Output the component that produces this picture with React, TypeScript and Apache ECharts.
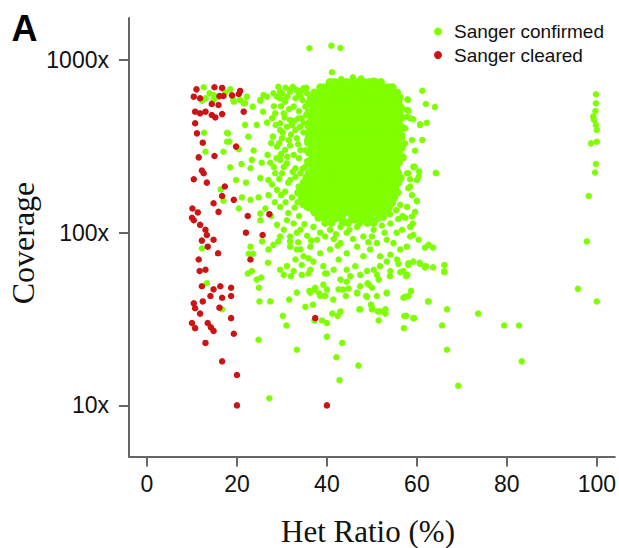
import React, { useEffect, useRef } from "react";
import * as echarts from "echarts";

const xTicks = [0, 20, 40, 60, 80, 100];
const yTicks = [10, 100, 1000];
const seriesNames = ["Sanger confirmed", "Sanger cleared"];
const GREEN = "#7FFF00";
const RED = "#CC1414";

// dense central cloud of confirmed calls: [coverage, het ratios along that row]
const clusterRows: [number, number[]][] = [
  [745, [40.6, 41.7, 43.1, 44.4, 45.6, 46.9, 48.3, 49.5, 50.8, 52.0]],
  [695, [38.5, 39.6, 40.8, 42.1, 43.2, 44.8, 45.9, 47.4, 48.6, 50.1, 51.2, 52.8, 53.8, 54.6]],
  [648, [37.2, 37.9, 38.6, 40.1, 41.2, 42.8, 43.9, 45.4, 46.6, 48.1, 49.2, 50.8, 51.9, 53.4, 54.6, 55.6]],
  [606, [36.4, 36.9, 38.1, 39.2, 40.8, 41.9, 43.4, 44.6, 46.1, 47.2, 48.8, 49.9, 51.4, 52.6, 54.1, 55.2, 56.2]],
  [567, [36.1, 37.2, 38.7, 39.9, 41.4, 42.6, 44.1, 45.2, 46.7, 47.9, 49.4, 50.6, 52.1, 53.2, 54.7, 55.9]],
  [530, [36.8, 37.9, 39.4, 40.6, 42.1, 43.2, 44.8, 45.9, 47.4, 48.6, 50.1, 51.2, 52.8, 53.9, 55.4, 56.5]],
  [496, [35.9, 37.4, 38.6, 40.1, 41.2, 42.8, 43.9, 45.4, 46.6, 48.1, 49.2, 50.8, 51.9, 53.4, 54.6, 56.1]],
  [464, [36.6, 38.1, 39.2, 40.8, 41.9, 43.4, 44.6, 46.1, 47.2, 48.8, 49.9, 51.4, 52.6, 54.1, 55.2, 56.6]],
  [434, [36.2, 37.3, 38.7, 40.0, 41.3, 42.7, 44.0, 45.3, 46.7, 48.0, 49.3, 50.7, 52.0, 53.3, 54.7, 56.0]],
  [406, [36.7, 38.0, 39.3, 40.7, 42.0, 43.3, 44.7, 46.0, 47.3, 48.7, 50.0, 51.3, 52.7, 54.0, 55.3, 56.7]],
  [380, [36.1, 37.4, 38.6, 40.1, 41.3, 42.6, 44.1, 45.3, 46.6, 48.1, 49.3, 50.6, 52.1, 53.3, 54.6, 56.1]],
  [355, [36.8, 38.1, 39.2, 40.8, 42.1, 43.2, 44.8, 46.1, 47.2, 48.8, 50.1, 51.2, 52.8, 54.1, 55.2, 56.5]],
  [332, [35.8, 37.3, 38.7, 39.9, 41.3, 42.7, 43.9, 45.3, 46.7, 47.9, 49.3, 50.7, 51.9, 53.3, 54.7, 55.9]],
  [311, [36.6, 37.9, 39.4, 40.6, 41.9, 43.4, 44.6, 45.9, 47.4, 48.6, 49.9, 51.4, 52.6, 53.9, 55.4, 56.7]],
  [291, [36.0, 37.2, 38.8, 40.0, 41.2, 42.8, 44.0, 45.2, 46.8, 48.0, 49.2, 50.8, 52.0, 53.2, 54.8, 56.0]],
  [272, [36.7, 38.1, 39.3, 40.6, 42.1, 43.3, 44.6, 46.1, 47.3, 48.6, 50.1, 51.3, 52.6, 54.1, 55.3, 56.4]],
  [255, [35.9, 37.3, 38.6, 40.1, 41.3, 42.6, 44.1, 45.3, 46.6, 48.1, 49.3, 50.6, 52.1, 53.3, 54.6, 56.0]],
  [238, [36.8, 37.9, 39.4, 40.7, 41.9, 43.4, 44.7, 45.9, 47.4, 48.7, 49.9, 51.4, 52.7, 53.9, 55.4]],
  [223, [36.0, 37.4, 38.7, 39.9, 41.4, 42.7, 43.9, 45.4, 46.7, 47.9, 49.4, 50.7, 51.9, 53.4, 54.7, 55.8]],
  [208, [35.4, 36.7, 38.0, 39.3, 40.7, 42.0, 43.3, 44.7, 46.0, 47.3, 48.7, 50.0, 51.3, 52.7, 54.0, 55.3, 56.4]],
  [195, [34.8, 36.1, 37.3, 38.7, 40.0, 41.3, 42.7, 44.0, 45.3, 46.7, 48.0, 49.3, 50.7, 52.0, 53.3, 54.7, 55.9]],
  [182, [34.2, 35.4, 36.7, 38.1, 39.3, 40.6, 42.1, 43.3, 44.6, 46.1, 47.3, 48.6, 50.1, 51.3, 52.6, 54.1, 55.2]],
  [171, [33.6, 34.9, 36.1, 37.3, 38.6, 40.1, 41.3, 42.6, 44.1, 45.3, 46.6, 48.1, 49.3, 50.6, 52.1, 53.3, 54.6, 55.7]],
  [160, [34.4, 35.6, 36.8, 38.1, 39.2, 40.8, 42.1, 43.2, 44.8, 46.1, 47.2, 48.8, 50.1, 51.2, 52.8, 54.1, 55.0]],
  [149, [35.2, 36.2, 37.3, 38.7, 40.0, 41.3, 42.7, 44.0, 45.3, 46.7, 48.0, 49.3, 50.7, 52.0, 53.3, 54.5]],
  [140, [36.1, 37.0, 38.0, 39.3, 40.7, 42.0, 43.3, 44.7, 46.0, 47.3, 48.7, 50.0, 51.3, 52.7, 53.8]],
  [131, [37.3, 38.7, 40.0, 41.3, 42.7, 44.0, 45.3, 46.7, 48.0, 49.3, 50.7, 52.0, 53.2]],
  [122, [38.1, 39.4, 40.6, 42.2, 43.3, 45.6, 46.9, 48.2, 49.6, 51.5]],
  [114, [39.6, 41.0, 43.5, 44.7, 47.2, 49.0, 50.4]],
];

// scattered confirmed calls: [het ratio %, coverage]
const confirmedScatter: number[][] = [
  [36.1, 1169], [41, 1210], [43, 1174], [41.1, 849], [45.8, 794], [50.4, 760], [43.2, 775], [47.6, 782],
  [61.2, 664], [62, 556], [64, 534], [60.7, 420], [62.2, 433], [61.2, 344], [59.6, 298], [64.2, 222],
  [59.5, 241], [60.5, 226], [60, 152], [61.8, 82], [63.6, 82], [66.1, 65], [66.1, 60], [60.6, 67], [62, 64],
  [58, 587], [57.8, 513], [58.5, 460], [57.4, 402], [58.9, 344], [57, 276], [59.2, 241], [58.1, 221],
  [60, 202], [58.5, 185], [57.9, 592], [58.1, 509], [57.8, 470], [59.2, 454], [60.7, 424],
  [57.4, 329], [57, 270], [56.7, 368], [59.4, 239], [64.3, 221], [57.8, 221], [60.4, 211], [58.5, 204],
  [58.1, 181], [58.9, 165], [60, 153], [57.8, 141], [59.6, 132], [58.9, 124], [57.4, 122], [59.1, 113],
  [59.2, 97], [60.4, 91], [62.6, 85], [57.8, 83], [58.1, 66.5], [60.7, 66], [61.8, 63], [63.6, 63],
  [66.1, 59], [57, 60], [57.9, 57], [58.7, 46], [57, 42], [58.1, 43], [62.6, 40],
  [99.8, 633], [99.8, 561], [99.7, 506], [99.2, 470], [99.4, 449], [99.8, 420], [100, 393], [100, 336],
  [98.7, 329], [99.8, 250], [99.6, 223], [98.2, 163], [97.8, 89], [95.8, 47.3], [100, 40],
  [73.6, 34], [79.4, 29], [82.7, 29], [83.3, 18], [69.2, 13], [66.7, 36], [65.6, 29], [66.7, 21],
  [62.5, 40], [59.4, 32], [57.1, 28], [57.6, 33], [57.2, 32.9], [59.2, 32],
  [51.5, 31], [53, 34], [51.3, 35], [50, 36], [49.8, 38.3], [53.3, 45], [51.1, 43], [47.2, 36], [47, 17],
  [42.8, 14], [42.1, 19], [43.4, 23], [40, 25], [40, 30], [37.2, 31], [41.2, 34], [42.4, 33], [43, 35],
  [44.2, 43], [43.6, 46.8], [44.8, 47.5], [46.7, 45], [48.7, 43], [50, 48], [49, 51], [51.1, 57],
  [41.4, 41], [39.5, 43], [38.3, 44.5], [36.9, 38.3], [35.2, 37.2], [36.1, 46], [37.4, 48], [39.2, 50],
  [39.6, 58], [54, 56], [56.3, 59], [57.6, 56], [38.9, 31],
  [27.2, 11], [24.8, 24], [30.2, 33], [31, 29], [33.3, 21], [33.3, 45], [31.6, 41], [27.4, 40], [25, 40],
  [24.9, 48], [24.4, 53.5], [25.4, 55], [22.4, 58], [23.3, 60], [36.3, 45], [13.3, 51], [16.7, 36],
  [30.4, 57], [32, 56], [34.4, 57], [23, 83], [22.6, 75.5], [23.6, 75.5], [26.9, 67], [12.2, 81],
  [25.6, 89], [27, 80], [28.1, 85], [29.2, 89], [31.8, 89], [34.1, 80], [33, 70], [34.4, 65], [35.9, 71],
  [29.6, 61], [31.1, 64], [32.6, 60], [35.9, 58],
  [37.4, 46.8], [38.5, 43], [40, 46.8], [39.6, 43], [43, 53.5], [44.4, 52], [42.6, 47], [46.7, 44.5],
  [47.4, 49], [48.9, 42.5], [49.3, 50], [51.5, 53.5], [53.3, 44.5], [54.1, 60], [55.9, 66], [58.1, 65],
  [57.4, 42.5], [47.4, 36], [50, 37], [51.8, 35], [53, 36],
  [36.3, 61], [37, 68], [39.2, 64], [40, 58], [41.5, 61], [42.6, 70], [44.4, 61], [45.2, 56], [46.3, 64],
  [47.4, 57], [48.9, 60], [50.4, 61], [51.8, 64], [53.3, 68], [54.1, 74.5], [55.6, 70], [56.3, 80],
  [54.8, 87], [58.5, 95], [58.5, 108], [56.7, 104], [59.2, 68],
  [30.4, 104], [31.8, 95], [33.3, 80], [34.8, 73], [36.3, 83], [37.8, 91], [38.5, 76], [40.7, 80],
  [43, 87], [44.4, 76], [46.7, 83], [48.1, 73], [49.6, 80], [51.1, 87], [51.8, 73], [53.3, 91], [48.1, 95],
  [34.1, 104], [44.4, 100], [37, 108], [32.6, 113], [40.7, 104], [46.7, 108], [50.4, 104], [54.1, 113],
  [48.9, 113], [43, 108], [38.5, 100], [31.1, 118],
  [33.5, 150], [35.5, 140], [37, 132], [38.3, 125], [39.8, 118], [41.8, 120], [44, 116], [46, 118],
  [47.8, 121], [50.8, 118], [52.6, 122], [54, 128], [55.4, 135], [56.3, 145], [55.8, 120], [52.2, 110],
  [45, 104], [42, 98], [39.6, 95], [35.6, 96], [36.5, 90], [41.5, 92], [45.8, 92], [50, 95], [52.8, 100],
  [55.5, 100], [35, 112], [56.8, 125], [33.6, 88], [42.4, 84], [49.2, 88],
  [30, 641], [31.8, 655], [33.3, 670], [30.7, 574], [32.6, 537], [30.4, 491], [31.8, 449], [33.7, 460],
  [31.1, 411], [33, 393], [30, 352], [31.5, 344], [33.3, 352], [30.7, 301], [32.6, 282], [34.1, 301],
  [31.1, 252], [33, 236], [30, 221], [34.1, 221], [31.8, 202], [33.7, 185], [30.7, 173], [35.6, 202],
  [35.2, 241], [35.6, 344], [34.8, 430], [35.2, 537], [35.6, 641],
  [29.2, 700], [30.8, 690], [32.4, 700], [34.2, 660], [35.4, 690], [29.5, 600], [31.2, 615], [33, 600],
  [34.6, 585], [35.8, 560], [29.8, 540], [31.6, 520], [33.8, 505], [35.4, 480], [30.6, 465], [32.8, 445],
  [34.4, 460], [35.8, 410], [29.6, 430], [32.2, 420], [34, 410], [30.2, 380], [32, 370], [34.8, 380],
  [35.8, 360], [29.4, 330], [31.8, 320], [33.6, 325], [35.2, 300], [29.8, 285], [31.2, 275], [33.8, 270],
  [35.6, 260], [30.4, 240], [32.4, 225], [34.6, 235], [29.4, 205], [31.4, 195], [33, 210], [35.2, 190],
  [29.8, 165], [32.2, 160], [34.2, 165], [30.8, 150], [32.8, 140], [34.6, 145], [31.4, 130], [33.8, 125],
  [12.6, 695], [14.8, 627], [12.2, 581], [19.3, 574], [21.5, 561], [23.5, 537], [25.2, 581], [25.8, 502],
  [21.8, 421], [24.4, 421], [26.7, 434], [17.8, 379], [12.7, 379], [17.8, 336], [17, 294], [20.4, 304],
  [13, 294], [23.7, 299], [26.8, 282], [23, 236], [18.5, 239], [25.5, 254], [27.4, 254], [23.3, 264],
  [25.2, 207], [19.8, 202], [27, 202], [16.4, 178], [17, 153], [21.1, 160], [23, 155], [24.8, 160],
  [27, 165], [20.4, 138], [26.3, 138], [25.2, 129], [25.2, 118], [28.9, 111],
  [13.9, 641], [17.4, 647], [13, 600], [18.5, 676], [22.2, 613],
  [28.9, 177], [29.6, 141], [33.3, 100], [29.6, 95], [31.8, 83], [28.5, 221], [29.6, 264], [28.9, 315],
  [29.6, 393], [28.5, 491], [28.9, 613], [14.8, 587], [15.9, 613], [19.2, 587], [20.7, 587], [21.8, 563],
  [18, 376], [18.3, 337], [25.9, 627], [28.1, 641], [29.6, 655], [31.8, 670], [33.7, 641], [34.8, 685],
  [25.2, 587], [26.7, 613], [30.4, 587], [34.1, 613],
  [28.2, 540], [27.8, 460], [28.6, 420], [28, 360], [27.6, 330], [28.8, 270], [28.2, 240], [27.8, 190],
  [28.4, 150], [27.6, 125], [22.5, 360], [21, 250], [22, 195],
];

// Sanger cleared calls: [het ratio %, coverage]
const clearedPoints: number[][] = [
  [11, 676], [15, 695], [16.7, 689], [10.4, 613], [11.8, 600], [16.1, 619], [17, 619], [18.9, 624],
  [20.4, 635], [20.7, 662], [14.4, 556], [15.9, 549], [10.7, 502], [11.8, 491], [13, 502], [14.4, 480],
  [16.7, 486], [15.2, 465], [10.7, 430], [11.1, 376], [12.4, 332], [11.5, 273], [15, 278], [19.8, 315],
  [12.6, 221], [12.2, 229], [10.4, 204], [13.3, 195], [17.3, 185], [16.7, 163], [19.3, 155], [14.8, 148],
  [10.1, 138], [15.9, 132], [10.4, 118], [11.8, 111], [13, 104], [13.3, 97], [14.8, 91], [12.2, 90],
  [13.5, 83], [22.4, 125], [27.2, 128], [25.7, 97], [21.5, 502], [22, 100], [10, 122], [11.3, 131],
  [15.8, 76], [11.5, 70], [11.7, 60], [13, 61], [23, 70], [12.2, 49], [14.8, 47], [16.3, 49], [18.7, 48],
  [14.1, 43], [16.7, 42], [12.4, 40], [18.7, 43], [10.4, 39], [10.7, 36.5], [16.1, 36.8], [11.8, 34],
  [18.7, 32], [10, 30], [10.7, 28], [13.5, 30], [14.2, 28.3], [14.8, 27], [19.3, 26], [13, 23],
  [16.7, 18], [20, 15], [20, 10], [40, 10], [37.4, 32],
];

export default function App() {
  const ref = useRef<HTMLDivElement>(null);
  useEffect(() => {
    const chart = echarts.init(ref.current!, null, { renderer: "svg" });
    const cluster = clusterRows.flatMap(([c, xs]) => xs.map((x) => [x, c]));
    const axisColor = "#666";
    const sans = "'Liberation Sans', Arial, sans-serif";
    const serif = "'Liberation Serif', 'Times New Roman', serif";
    chart.setOption({
      animation: false,
      backgroundColor: "#fff",
      grid: { left: 129, right: 4, top: 18, bottom: 91.5 },
      xAxis: {
        type: "value",
        min: -4,
        max: 104,
        axisLine: { show: true, onZero: false, lineStyle: { color: axisColor, width: 2 } },
        axisTick: { show: true, length: 10, customValues: xTicks, lineStyle: { color: axisColor, width: 2 } },
        axisLabel: { customValues: xTicks, fontSize: 23, color: "#111", margin: 16, fontFamily: sans },
        splitLine: { show: false },
      },
      yAxis: {
        type: "log",
        logBase: 10,
        min: 5.06,
        max: 1750,
        axisLine: { show: true, onZero: false, lineStyle: { color: axisColor, width: 2 } },
        axisTick: { show: true, length: 10, customValues: yTicks, lineStyle: { color: axisColor, width: 2 } },
        axisLabel: {
          customValues: yTicks,
          fontSize: 23,
          color: "#111",
          margin: 20,
          fontFamily: sans,
          formatter: (v: number) => `${Math.round(v)}x`,
        },
        splitLine: { show: false },
        minorTick: { show: false },
      },
      legend: {
        orient: "vertical",
        left: 434,
        top: 21,
        padding: 0,
        itemWidth: 22,
        itemHeight: 8,
        itemGap: 2.5,
        icon: "circle",
        data: seriesNames,
        textStyle: { fontSize: 19, color: "#111", lineHeight: 21, fontFamily: sans },
      },
      graphic: [
        {
          type: "text",
          x: 24.5,
          y: 28,
          style: { text: "A", font: `bold 36px ${sans}`, fill: "#000", textAlign: "center", textVerticalAlign: "middle" },
        },
        {
          type: "text",
          x: 22.5,
          y: 243,
          rotation: Math.PI / 2,
          style: { text: "Coverage", font: `32px ${serif}`, fill: "#111", textAlign: "center", textVerticalAlign: "middle" },
        },
        {
          type: "text",
          x: 368,
          y: 531,
          style: { text: "Het Ratio (%)", font: `31px ${serif}`, fill: "#111", textAlign: "center", textVerticalAlign: "middle" },
        },
      ],
      series: [
        {
          name: seriesNames[0],
          type: "scatter",
          data: cluster,
          symbolSize: 8,
          itemStyle: { color: GREEN, opacity: 1 },
          emphasis: { disabled: true },
        },
        {
          name: seriesNames[0],
          type: "scatter",
          data: confirmedScatter,
          symbolSize: 6.5,
          itemStyle: { color: GREEN, opacity: 1 },
          emphasis: { disabled: true },
        },
        {
          name: seriesNames[1],
          type: "scatter",
          data: clearedPoints,
          symbolSize: 6.5,
          itemStyle: { color: RED, opacity: 1 },
          emphasis: { disabled: true },
        },
      ],
    });
    return () => chart.dispose();
  }, []);
  return <div ref={ref} style={{ position: "absolute", left: 0, top: 0, width: 619, height: 548 }} />;
}
